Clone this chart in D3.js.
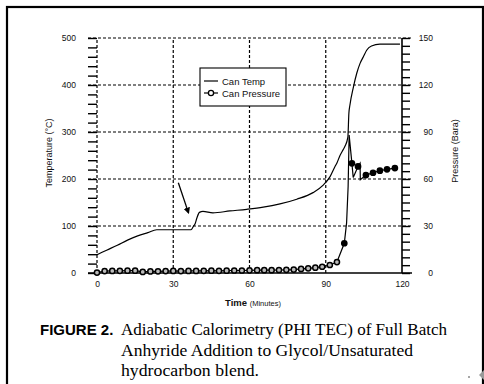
<!DOCTYPE html>
<html>
<head>
<meta charset="utf-8">
<script src="https://cdn.jsdelivr.net/npm/d3@7"></script>
<style>
  body { margin: 0; background: #fff; }
  svg { display: block; font-family: "Liberation Sans", Arial, sans-serif; }
  .grid line { stroke: #000; stroke-width: 1.2; stroke-dasharray: 3,2; }
  .tick text { font-size: 8.5px; fill: #111; }
  .tick line { stroke: #000; stroke-width: 1.4; }
</style>
</head>
<body>
<script>
// Can temperature (minutes, deg C)
const tempCurve = [
  [0, 39], [4, 49], [8, 59], [12, 70], [16, 79], [20, 86], [23.5, 92],
  [30, 92], [37, 92], [37.9, 99], [38.6, 105], [39.3, 117], [40.3, 129],
  [41.7, 131], [45.6, 128], [52.3, 132], [58.9, 135.5], [65.4, 140],
  [72, 147], [78.6, 157], [85, 171], [89, 187], [91.7, 205], [93.6, 226],
  [94.4, 234], [95.6, 250], [96.8, 262], [97.6, 270], [98.7, 289],
  [99.1, 340], [99.5, 357], [100.9, 396], [102.2, 425], [103.5, 446],
  [104.8, 460], [106.1, 474], [108, 483], [111.3, 487], [119.2, 487]
];

// Can pressure (minutes, bar, marker drawn?)
const pressureCurve = [
  [0, 0.3, 1], [3, 1.2, 1], [6, 1.3, 1], [9, 1.4, 1], [12, 1.5, 1], [15, 1.5, 1],
  [18, 0.7, 1], [21, 1.0, 1], [24, 1.1, 1], [27, 1.2, 1], [30, 1.3, 1], [33, 1.2, 1],
  [36, 1.3, 1], [39, 1.3, 1], [42, 1.4, 1], [45, 1.5, 1], [48, 1.4, 1], [51, 1.5, 1],
  [54, 1.6, 1], [57, 1.6, 1], [60, 1.7, 1], [63, 1.8, 1], [65.8, 1.8, 1], [68.7, 1.8, 1],
  [71.6, 1.9, 1], [74.5, 2.0, 1], [77.4, 2.2, 1], [80.3, 2.6, 1], [83.1, 3.0, 1],
  [85.9, 3.4, 1], [88.6, 4.0, 1], [91.6, 5.1, 1], [94.4, 7.0, 1], [97.3, 19, 1],
  [98.2, 32, 0], [98.8, 55, 0], [99.2, 88, 0], [100.3, 70, 1], [100.8, 61, 0],
  [102.7, 68, 1], [103.5, 70, 0], [103.6, 59.5, 0], [105.8, 62.5, 1], [108.6, 64, 1],
  [111.3, 65.3, 1], [114.1, 66.2, 1], [117.2, 67, 1]
];

const timeTicks = [0, 30, 60, 90, 120];
const tempTicks = d3.range(0, 501, 20);
const tempLabels = [0, 100, 200, 300, 400, 500];
const pressTicks = d3.range(0, 151, 5);
const pressLabels = [0, 30, 60, 90, 120, 150];
const arrowFrom = [32, 192];
const arrowTo = [36, 128];

const captionLines = [
  "Adiabatic Calorimetry (PHI TEC) of Full Batch",
  "Anhyride Addition to Glycol/Unsaturated",
  "hydrocarbon blend."
];
const captionWidths = [326, 292, 138];

const svg = d3.select("body").append("svg")
  .attr("width", 484)
  .attr("height", 384);

// page frame
svg.append("rect")
  .attr("x", 7).attr("y", 7)
  .attr("width", 476).attr("height", 400)
  .attr("fill", "none").attr("stroke", "#000").attr("stroke-width", 2.2);

const x = d3.scaleLinear().domain([0, 120]).range([97, 402]);
const yT = d3.scaleLinear().domain([0, 500]).range([273, 38]);
const yP = d3.scaleLinear().domain([0, 150]).range([273, 38]);

// dashed grid
const grid = svg.append("g").attr("class", "grid");
grid.selectAll(".h")
  .data(tempLabels.filter(d => d > 0))
  .enter().append("line")
  .attr("x1", x(0) - 9).attr("x2", x(120) + 10)
  .attr("y1", d => yT(d)).attr("y2", d => yT(d));
grid.selectAll(".v")
  .data(timeTicks.filter(d => d < 120))
  .enter().append("line")
  .attr("x1", d => x(d)).attr("x2", d => x(d))
  .attr("y1", yT(0)).attr("y2", yT(500));

// left axis (minor ticks every 20)
const leftAxis = svg.append("g")
  .attr("transform", `translate(${x(0)},0)`)
  .call(d3.axisLeft(yT)
    .tickValues(tempTicks)
    .tickSize(9)
    .tickPadding(12)
    .tickFormat(d => tempLabels.includes(d) ? d : ""));
leftAxis.select(".domain").remove();

// right axis
const rightAxis = svg.append("g")
  .attr("transform", `translate(${x(120)},0)`)
  .call(d3.axisRight(yP)
    .tickValues(pressTicks)
    .tickSize(8)
    .tickFormat(d => pressLabels.includes(d) ? d : ""));
rightAxis.select(".domain")
  .attr("d", `M0,${yP(0)}V${yP(150)}`)
  .attr("stroke", "#000").attr("stroke-width", 1.6);
rightAxis.selectAll("text").attr("text-anchor", "end").attr("x", 31);

// bottom axis
const bottomAxis = svg.append("g")
  .attr("transform", `translate(0,${yT(0)})`)
  .call(d3.axisBottom(x)
    .tickValues(timeTicks)
    .tickSize(0)
    .tickPadding(8));
bottomAxis.select(".domain").remove();
svg.append("line")
  .attr("x1", x(0) - 9).attr("x2", x(120) + 10)
  .attr("y1", yT(0)).attr("y2", yT(0))
  .attr("stroke", "#000").attr("stroke-width", 1.6);

// axis titles
svg.append("text")
  .attr("transform", `translate(52,153) rotate(-90)`)
  .attr("text-anchor", "middle")
  .attr("font-size", 9).attr("fill", "#111")
  .text("Temperature (°C)");
svg.append("text")
  .attr("transform", `translate(458,151) rotate(-90)`)
  .attr("text-anchor", "middle")
  .attr("font-size", 9).attr("fill", "#111")
  .text("Pressure (Bara)");
const xTitle = svg.append("text")
  .attr("x", 253).attr("y", 306)
  .attr("text-anchor", "middle")
  .attr("fill", "#111");
xTitle.append("tspan").attr("font-size", 9.5).attr("font-weight", "bold").text("Time ");
xTitle.append("tspan").attr("font-size", 7.5).text("(Minutes)");

// curves
const tempLine = d3.line()
  .x(d => x(d[0]))
  .y(d => yT(d[1]))
  .curve(d3.curveMonotoneX);
svg.append("path")
  .datum(tempCurve)
  .attr("d", tempLine)
  .attr("fill", "none").attr("stroke", "#000").attr("stroke-width", 1.2);

const pressLine = d3.line()
  .x(d => x(d[0]))
  .y(d => yP(d[1]));
svg.append("path")
  .datum(pressureCurve)
  .attr("d", pressLine)
  .attr("fill", "none").attr("stroke", "#000").attr("stroke-width", 1.2);

svg.append("g").selectAll("circle")
  .data(pressureCurve.filter(d => d[2]))
  .enter().append("circle")
  .attr("cx", d => x(d[0]))
  .attr("cy", d => yP(d[1]))
  .attr("r", 2.6)
  .attr("fill", d => d[1] > 10 ? "#000" : "#bbb")
  .attr("stroke", "#000").attr("stroke-width", 1.5);

// annotation arrow
svg.append("defs").append("marker")
  .attr("id", "arrowhead")
  .attr("viewBox", "0 -5 10 10")
  .attr("refX", 8).attr("refY", 0)
  .attr("orient", "auto")
  .attr("markerWidth", 5).attr("markerHeight", 5)
  .append("path")
  .attr("d", "M0,-5L10,0L0,5Z")
  .attr("fill", "#000");
svg.append("line")
  .attr("x1", x(arrowFrom[0])).attr("y1", yT(arrowFrom[1]))
  .attr("x2", x(arrowTo[0])).attr("y2", yT(arrowTo[1]))
  .attr("stroke", "#000").attr("stroke-width", 1.3)
  .attr("marker-end", "url(#arrowhead)");

// legend
const legend = svg.append("g");
legend.append("rect")
  .attr("x", 200).attr("y", 68).attr("width", 86).attr("height", 38)
  .attr("fill", "#fff").attr("stroke", "#000").attr("stroke-width", 1.1);
legend.append("line")
  .attr("x1", 204).attr("x2", 218).attr("y1", 81).attr("y2", 81)
  .attr("stroke", "#000").attr("stroke-width", 1.2);
legend.append("line")
  .attr("x1", 204).attr("x2", 218).attr("y1", 93).attr("y2", 93)
  .attr("stroke", "#000").attr("stroke-width", 1.2);
legend.append("circle")
  .attr("cx", 211).attr("cy", 93).attr("r", 2.6)
  .attr("fill", "#fff").attr("stroke", "#000").attr("stroke-width", 1.3);
legend.append("text")
  .attr("x", 222).attr("y", 84.5)
  .attr("font-size", 9.5).attr("fill", "#111")
  .text("Can Temp");
legend.append("text")
  .attr("x", 222).attr("y", 96.5)
  .attr("font-size", 9.5).attr("fill", "#111")
  .text("Can Pressure");

// caption
svg.append("text")
  .attr("x", 40).attr("y", 335)
  .attr("font-size", 15).attr("font-weight", "bold").attr("fill", "#000")
  .text("FIGURE 2.");
svg.append("g").selectAll("text")
  .data(captionLines)
  .enter().append("text")
  .attr("x", 121)
  .attr("y", (d, i) => 335 + i * 20.5)
  .attr("font-family", "'Liberation Serif', 'Times New Roman', serif")
  .attr("font-size", 17.5)
  .attr("fill", "#000")
  .attr("textLength", (d, i) => captionWidths[i])
  .attr("lengthAdjust", "spacingAndGlyphs")
  .text(d => d);

// scan specks at bottom right
svg.append("circle").attr("cx", 469).attr("cy", 377).attr("r", 1).attr("fill", "#888");
svg.append("path").attr("d", "M484,370L479,375L484,380Z").attr("fill", "#999");
</script>
</body>
</html>
